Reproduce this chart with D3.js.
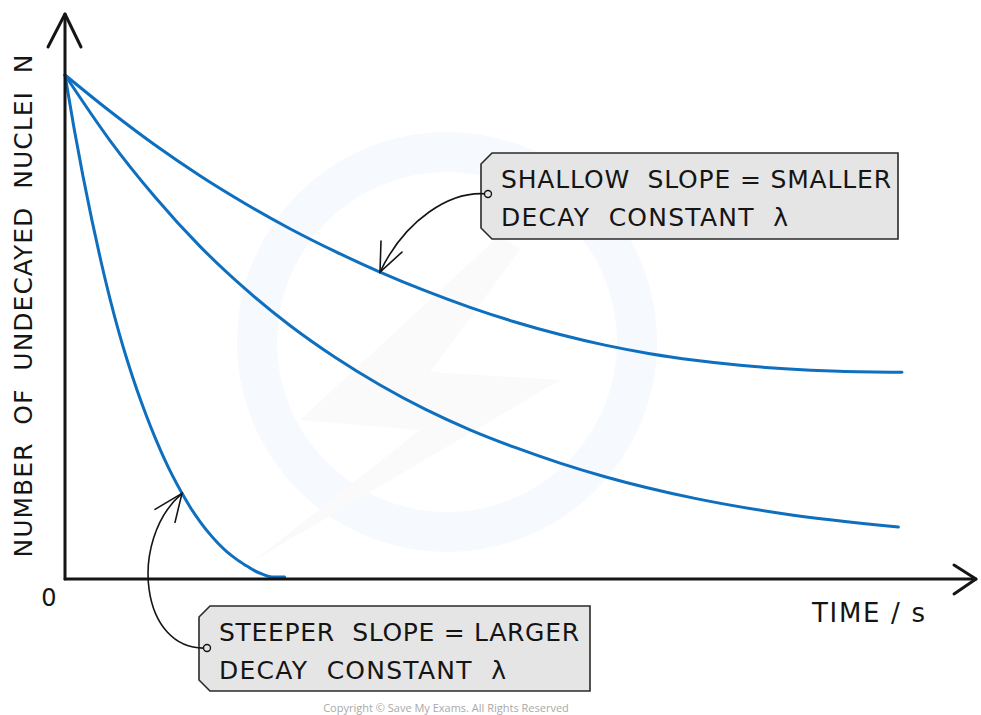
<!DOCTYPE html>
<html><head><meta charset="utf-8">
<script src="https://cdn.jsdelivr.net/npm/d3@7"></script>
<style>html,body{margin:0;padding:0;background:#fff;} svg{display:block;} text{white-space:pre;}</style>
</head><body>
<svg id="chart" width="981" height="715"></svg>
<script>
// ---- data (time in arbitrary units, N as % of N0) ----
const shallowTime = [0,5,10,15,20,25,30,35,40,45,50,55,60,65,70,75,80,86,93];
const shallowN    = [100,92.8,86.1,80.0,74.5,69.5,65.0,60.9,57.2,53.9,51.0,48.5,46.4,44.7,43.4,42.4,41.7,41.2,41.0];
const mediumTime  = [0,5,10,15,20,25,30,35,40,45,50,55,60,70,80,92.6];
const mediumN     = [100,87.0,75.8,66.0,57.6,50.3,44.0,38.5,33.7,29.6,26.1,23.0,20.3,16.0,12.9,10.3];
const steepTime   = [0,1,2,3,4,5,6,7,8,9,10,11,12,13,14,15,16,17,18,19,20,21,22,23,24.4];
const steepN      = [100,89.5,79.9,71.1,63.0,55.6,48.9,42.9,37.5,32.6,28.1,24.0,20.3,17.0,14.0,11.4,9.1,7.1,5.4,4.0,2.8,1.7,0.9,0.4,0.4];
const xLabel = "TIME / s";
const yLabel = "NUMBER  OF  UNDECAYED  NUCLEI  N";
const originLabel = "0";
const shallowNote = ["SHALLOW  SLOPE = SMALLER", "DECAY  CONSTANT  λ"];
const steepNote   = ["STEEPER  SLOPE = LARGER", "DECAY  CONSTANT  λ"];
const copyright = "Copyright © Save My Exams. All Rights Reserved";
const shallowArrowT = 35;
const steepArrowT = 13;

const svg = d3.select("#chart");
const x = d3.scaleLinear().domain([0,100]).range([65,965]);
const y = d3.scaleLinear().domain([0,100]).range([579,75]);
const blue = "#0f6fbf";
const ink = "#151515";
const font = "'DejaVu Sans', sans-serif";

// faint watermark
const wm = svg.append("g");
wm.append("circle").attr("cx",447).attr("cy",342).attr("r",190)
  .attr("fill","none").attr("stroke","#f6f9fe").attr("stroke-width",40);
wm.append("path").attr("d","M500,235 L300,420 L420,430 L255,560 L560,380 L430,372 L520,250 Z")
  .attr("fill","#fafafa");

// curves
const line = d3.line().x(d=>x(d[0])).y(d=>y(d[1])).curve(d3.curveMonotoneX);
function series(t,n){ return t.map((v,i)=>[v,n[i]]); }
[[shallowTime,shallowN],[mediumTime,mediumN],[steepTime,steepN]].forEach(([t,n])=>{
  svg.append("path").datum(series(t,n)).attr("d",line)
    .attr("fill","none").attr("stroke",blue).attr("stroke-width",3).attr("stroke-linecap","round");
});

// axes
const ax = svg.append("g").attr("stroke",ink).attr("stroke-width",3).attr("fill","none")
  .attr("stroke-linecap","round").attr("stroke-linejoin","round");
ax.append("line").attr("x1",x(0)).attr("y1",y(0)).attr("x2",x(0)).attr("y2",14);
ax.append("line").attr("x1",x(0)).attr("y1",y(0)).attr("x2",976).attr("y2",y(0));
ax.append("path").attr("d",`M${x(0)-17},47 L${x(0)},14 L${x(0)+16},47`);
ax.append("path").attr("d",`M954,${y(0)-14} L976,${y(0)} L954,${y(0)+15}`);

svg.append("text").attr("x",49).attr("y",606).attr("text-anchor","middle")
  .attr("font-family",font).attr("font-size",24).attr("fill",ink).text(originLabel);
svg.append("text").attr("x",812).attr("y",622)
  .attr("font-family",font).attr("font-size",26).attr("fill",ink)
  .attr("textLength",113).text(xLabel);
svg.append("text").attr("transform","translate(32,306) rotate(-90)").attr("text-anchor","middle")
  .attr("font-family",font).attr("font-size",25).attr("fill",ink)
  .attr("textLength",503).text(yLabel);

// annotation boxes
function box(x0,y0,x1,y1,c){
  return `M${x0+c},${y0} L${x1},${y0} L${x1},${y1} L${x0+c},${y1} L${x0},${y1-c} L${x0},${y0+c} Z`;
}
function interp(t,ts,ns){
  for(let i=1;i<ts.length;i++){ if(t<=ts[i]){ const f=(t-ts[i-1])/(ts[i]-ts[i-1]); return ns[i-1]+f*(ns[i]-ns[i-1]); } }
  return ns[ns.length-1];
}
function note(b, lines, widths, circ, pathFn, tip, armA, armB){
  const g = svg.append("g");
  g.append("path").attr("d",box(b[0],b[1],b[2],b[3],11))
    .attr("fill","#e5e5e5").attr("stroke","#2a2a2a").attr("stroke-width",1.6);
  lines.forEach((s,i)=>{
    g.append("text").attr("x",b[0]+20).attr("y",b[1]+35+i*38)
      .attr("font-family",font).attr("font-size",25).attr("fill",ink)
      .attr("textLength",widths[i]).text(s);
  });
  g.append("path").attr("d",pathFn).attr("fill","none").attr("stroke",ink).attr("stroke-width",1.6);
  g.append("path").attr("d",`M${armA[0]},${armA[1]} L${tip[0]},${tip[1]} L${armB[0]},${armB[1]}`)
    .attr("fill","none").attr("stroke",ink).attr("stroke-width",1.6).attr("stroke-linecap","round");
  g.append("circle").attr("cx",circ[0]).attr("cy",circ[1]).attr("r",3.5)
    .attr("fill","#e5e5e5").attr("stroke",ink).attr("stroke-width",1.4);
}
const t1 = [x(shallowArrowT), y(interp(shallowArrowT,shallowTime,shallowN))];
note([481,153,898,239], shallowNote, [390,287], [488,194],
  `M488,194 C450,190 405,220 ${t1[0]},${t1[1]}`, t1, [t1[0]+1,t1[1]-31], [t1[0]+22,t1[1]-20]);
const t2 = [x(steepArrowT), y(interp(steepArrowT,steepTime,steepN))];
note([199,606,590,691], steepNote, [360,287], [207,648],
  `M207,648 C140,652 128,540 ${t2[0]},${t2[1]}`, t2, [t2[0]-27,t2[1]+16], [t2[0]-7,t2[1]+29]);

svg.append("text").attr("x",446).attr("y",712).attr("text-anchor","middle")
  .attr("font-family","'Open Sans', sans-serif").attr("font-size",11).attr("fill","#a8a8a8").text(copyright);
</script>
</body></html>
